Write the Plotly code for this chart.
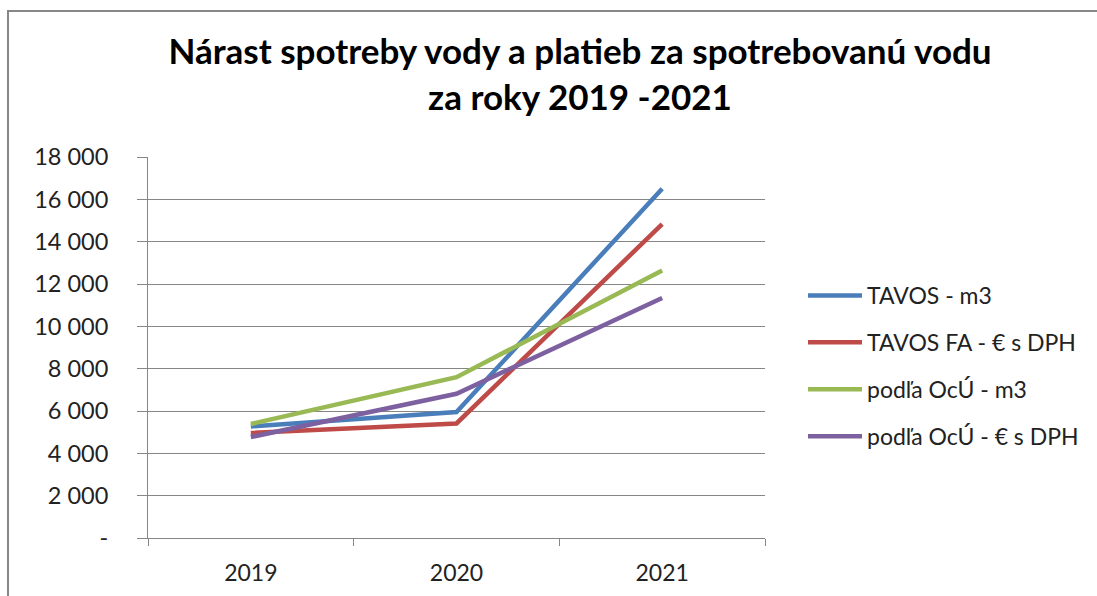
import plotly.graph_objects as go

years = ["2019", "2020", "2021"]
tavos_m3 = [5270, 5950, 16500]
tavos_fa_eur = [4960, 5410, 14830]
ocu_m3 = [5385, 7600, 12640]
ocu_eur = [4770, 6815, 11340]

series_names = ["TAVOS - m3", "TAVOS FA - € s DPH", "podľa OcÚ - m3", "podľa OcÚ - € s DPH"]
series_values = [tavos_m3, tavos_fa_eur, ocu_m3, ocu_eur]
colors = ["#4A7EBB", "#BE4B48", "#98B954", "#7D60A0"]

y_ticks = [0, 2000, 4000, 6000, 8000, 10000, 12000, 14000, 16000, 18000]
y_labels = ["-" if v == 0 else f"{v:,}".replace(",", " ") for v in y_ticks]

title_text = "Nárast spotreby vody a platieb za spotrebovanú vodu<br>za roky 2019 -2021"

FONT = "Lato, Carlito, Calibri, sans-serif"

fig = go.Figure()
for i, (name, vals, col) in enumerate(zip(series_names, series_values, colors)):
    fig.add_trace(go.Scatter(
        x=years, y=vals, name=name, mode="lines",
        line=dict(color=col, width=4.5),
        legendgroup=f"g{i}",
    ))

L, R, T, B = 148, 332, 157, 58
W, H = 1097, 596
pw = W - L - R
ph = H - T - B

fig.update_layout(
    width=W, height=H,
    margin=dict(l=L, r=R, t=T, b=B, autoexpand=False),
    paper_bgcolor="white", plot_bgcolor="white",
    font=dict(family=FONT, size=23, color="#222222"),
    title=dict(
        text=title_text, xref="container", x=580 / W, xanchor="center",
        yref="container", y=1 - 64 / H, yanchor="top",
        font=dict(family=FONT, size=35, color="#000000", weight="bold"),
    ),
    legend=dict(
        xref="container", x=803 / W, xanchor="left",
        yref="container", y=1 - 366 / H, yanchor="middle",
        font=dict(family=FONT, size=23, color="#222222"),
        traceorder="grouped", tracegroupgap=14,
        itemwidth=54,
        bgcolor="rgba(0,0,0,0)",
    ),
    showlegend=True,
    xaxis=dict(
        type="category", range=[-0.5, 2.5], tickson="boundaries",
        ticks="outside", ticklen=7,
        tickcolor="#868686", showline=True, linecolor="#868686", linewidth=1,
        showgrid=False, tickfont=dict(size=23, color="#222222"),
        ticklabelstandoff=14,
    ),
    yaxis=dict(
        range=[0, 18000], tickmode="array", tickvals=y_ticks, ticktext=y_labels,
        ticks="outside", ticklen=10, tickcolor="#868686",
        showline=True, linecolor="#868686", linewidth=1,
        showgrid=True, gridcolor="#868686", gridwidth=1,
        zeroline=False, tickfont=dict(size=23.5, color="#222222"),
        ticklabelstandoff=24,
    ),
)

fig.add_shape(
    type="rect", xref="paper", yref="paper",
    x0=(8 - L) / pw, x1=(W + 20 - L) / pw,
    y0=(538 - (H + 20)) / ph, y1=(538 - 11) / ph,
    line=dict(color="#878787", width=2), fillcolor="rgba(0,0,0,0)",
    layer="above",
)

fig.write_html(
    "out.html",
    config={"displayModeBar": False},
    post_script="document.body.style.margin='0';document.body.style.overflow='hidden';",
)
